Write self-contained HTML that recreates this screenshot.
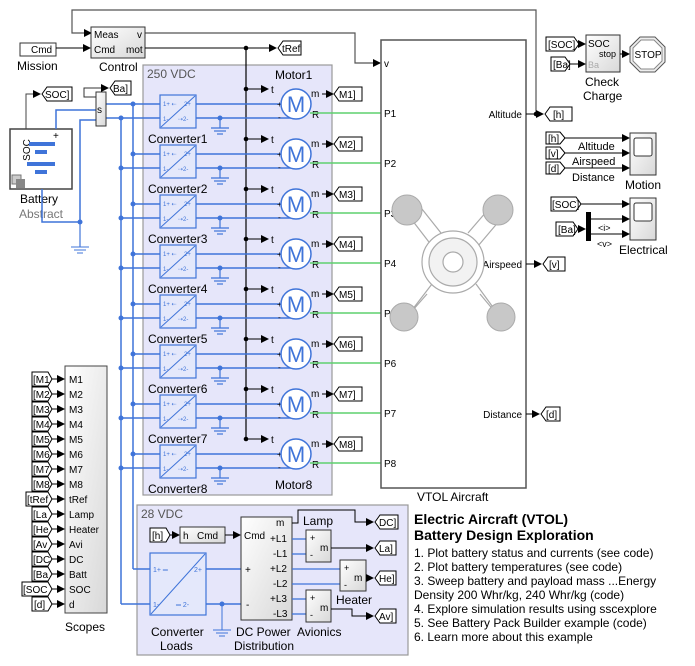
<!DOCTYPE html>
<html><head><meta charset="utf-8"><style>
html,body{margin:0;padding:0;background:#fff;}
svg{display:block;font-family:"Liberation Sans",Arial,sans-serif;}
</style></head><body>
<svg width="695" height="666" viewBox="0 0 695 666" xmlns="http://www.w3.org/2000/svg">
<defs>
<marker id="ar" markerWidth="8" markerHeight="8" refX="7" refY="4" orient="auto" markerUnits="userSpaceOnUse"><path d="M0,0 L8,4 L0,8 z" fill="#000"/></marker>
<linearGradient id="gb" x1="0" x2="1" y1="0" y2="1"><stop offset="0" stop-color="#fff"/><stop offset="1" stop-color="#d8d8d8"/></linearGradient>
<g id="row">
  <line x1="133" y1="104" x2="160" y2="104" stroke="#3f74d9" stroke-width="1.5"/>
  <line x1="121" y1="118" x2="160" y2="118" stroke="#3f74d9" stroke-width="1.5"/>
  <circle cx="133" cy="104" r="2.5" fill="#3f74d9"/>
  <circle cx="121" cy="118" r="2.5" fill="#3f74d9"/>
  <line x1="196" y1="104" x2="283" y2="104" stroke="#3f74d9" stroke-width="1.5"/>
  <line x1="196" y1="118" x2="296" y2="118" stroke="#3f74d9" stroke-width="1.5"/>
  <circle cx="220" cy="118" r="2.5" fill="#3f74d9"/>
  <line x1="220" y1="118" x2="220" y2="128" stroke="#3f74d9" stroke-width="1.2"/>
  <line x1="211" y1="128" x2="229" y2="128" stroke="#3f74d9" stroke-width="1.2"/>
  <line x1="214" y1="131" x2="226" y2="131" stroke="#3f74d9" stroke-width="1.2"/>
  <line x1="217" y1="134" x2="223" y2="134" stroke="#3f74d9" stroke-width="1.2"/>
  <rect x="160" y="95" width="36" height="33" fill="#e4e8fb" stroke="#3f74d9" stroke-width="1.2"/>
  <line x1="161" y1="127" x2="195" y2="96" stroke="#3f74d9" stroke-width="1"/>
  <text x="163" y="106" font-size="6" fill="#3f74d9">1+ ⇠</text>
  <text x="184" y="106" font-size="6" fill="#3f74d9">2+</text>
  <text x="163" y="121" font-size="6" fill="#3f74d9">1-</text>
  <text x="178" y="121" font-size="6" fill="#3f74d9">⇢2-</text>
  <line x1="246" y1="89" x2="268" y2="89" stroke="#000" marker-end="url(#ar)"/>
  <circle cx="246" cy="89" r="2.3" fill="#000"/>
  <text x="271" y="93" font-size="10">t</text>
  <text x="277" y="107" font-size="8">+</text>
  <text x="278" y="120" font-size="8">-</text>
  <circle cx="296" cy="104" r="15" fill="#fff" stroke="#3f74d9" stroke-width="1.5"/>
  <text x="296" y="112" font-size="22" fill="#3f74d9" text-anchor="middle">M</text>
  <text x="311" y="97" font-size="10">m</text>
  <text x="312" y="118" font-size="10">R</text>
  <line x1="322" y1="94" x2="333" y2="94" stroke="#000" marker-end="url(#ar)"/>
  <line x1="310" y1="113" x2="381" y2="113" stroke="#5fd16e" stroke-width="1.5"/>
  <path d="M334,94 l5,-7 h23 v14 h-23 z" fill="#fff" stroke="#000" stroke-width="1"/>
</g>
<path id="tag" d="M0,0 l5,-7 h23 v14 h-23 z" fill="#fff" stroke="#000" stroke-width="1"/>
</defs>

<!-- top feedback lines -->
<polyline points="536,114 536,10 72,10 72,33 91,33" fill="none" stroke="#555" stroke-width="1.2" marker-end="url(#ar)"/>
<polyline points="145,33 355,33 355,63 380,63" fill="none" stroke="#555" stroke-width="1.2" marker-end="url(#ar)"/>
<!-- Mission -->
<rect x="20" y="43" width="36" height="13" fill="#fff" stroke="#333"/>
<text x="31" y="53" font-size="10">Cmd</text>
<text x="17" y="70" font-size="12">Mission</text>
<line x1="56" y1="48" x2="90" y2="48" stroke="#000" marker-end="url(#ar)"/>
<!-- Control -->
<rect x="91" y="27" width="54" height="31" fill="url(#gb)" stroke="#333"/>
<text x="94" y="38" font-size="10">Meas</text><text x="137" y="38" font-size="10">v</text>
<text x="94" y="53" font-size="10">Cmd</text><text x="126" y="53" font-size="10">mot</text>
<text x="99" y="71" font-size="12">Control</text>
<line x1="145" y1="48" x2="276" y2="48" stroke="#000" marker-end="url(#ar)"/>
<circle cx="246" cy="48" r="2.3" fill="#000"/>
<path d="M278,48 l5,-7 h18 v14 h-18 z" fill="#fff" stroke="#000"/>
<text x="282" y="52" font-size="10">tRef</text>

<!-- 250 VDC box -->
<rect x="143" y="65" width="189" height="430" fill="#e6e6fa" stroke="#999" stroke-width="1.2"/>
<text x="147" y="78" font-size="12" fill="#555">250 VDC</text>
<text x="275" y="79" font-size="12">Motor1</text>
<text x="275" y="489" font-size="12">Motor8</text>

<!-- buses -->
<line x1="133" y1="104" x2="133" y2="569" stroke="#3f74d9" stroke-width="1.5"/>
<line x1="121" y1="118" x2="121" y2="604" stroke="#3f74d9" stroke-width="1.5"/>
<line x1="246" y1="48" x2="246" y2="439" stroke="#000" stroke-width="1.2"/>
<line x1="106" y1="104" x2="133" y2="104" stroke="#3f74d9" stroke-width="1.5"/>
<line x1="106" y1="118" x2="121" y2="118" stroke="#3f74d9" stroke-width="1.5"/>

<use href="#row"/>
<use href="#row" y="50"/>
<use href="#row" y="100"/>
<use href="#row" y="150"/>
<use href="#row" y="200"/>
<use href="#row" y="250"/>
<use href="#row" y="300"/>
<use href="#row" y="350"/>
<g font-size="12">
<text x="148" y="143">Converter1</text><text x="148" y="193">Converter2</text>
<text x="148" y="243">Converter3</text><text x="148" y="293">Converter4</text>
<text x="148" y="343">Converter5</text><text x="148" y="393">Converter6</text>
<text x="148" y="443">Converter7</text><text x="148" y="493">Converter8</text>
</g>
<g font-size="10">
<text x="339" y="98">M1]</text><text x="339" y="148">M2]</text><text x="339" y="198">M3]</text><text x="339" y="248">M4]</text>
<text x="339" y="298">M5]</text><text x="339" y="348">M6]</text><text x="339" y="398">M7]</text><text x="339" y="448">M8]</text>
</g>

<!-- Battery -->
<rect x="10" y="129" width="62" height="60" fill="#fff" stroke="#444" stroke-width="1.5"/>
<text x="30" y="150" font-size="10" transform="rotate(-90 30 150)" text-anchor="middle">SOC</text>
<text x="53" y="139" font-size="10">+</text>
<rect x="29" y="142" width="26" height="4" fill="#3f74d9"/>
<rect x="35" y="150" width="12" height="4" fill="#3f74d9"/>
<rect x="27" y="162" width="28" height="4" fill="#3f74d9"/>
<rect x="35" y="170" width="12" height="4" fill="#3f74d9"/>
<rect x="12" y="175" width="9" height="9" fill="#ccc" stroke="#777"/>
<rect x="16" y="179" width="9" height="9" fill="#888"/>
<text x="20" y="203" font-size="12">Battery</text>
<text x="19" y="218" font-size="12" fill="#777">Abstract</text>
<polyline points="26,129 26,94 40,94" fill="none" stroke="#444" marker-end="url(#ar)"/>
<path d="M42,94 l5,-7 h25 v14 h-25 z" fill="#fff" stroke="#000"/>
<text x="45" y="98" font-size="10">SOC]</text>
<polyline points="56,129 56,110 96,110" fill="none" stroke="#3f74d9" stroke-width="1.5"/>
<polyline points="42,189 42,222 80,222 80,120 96,120" fill="none" stroke="#3f74d9" stroke-width="1.5"/>
<circle cx="80" cy="222" r="2.5" fill="#3f74d9"/>
<line x1="80" y1="222" x2="80" y2="247" stroke="#3f74d9" stroke-width="1.2"/>
<line x1="71" y1="247" x2="89" y2="247" stroke="#3f74d9"/><line x1="74" y1="250" x2="86" y2="250" stroke="#3f74d9"/><line x1="77" y1="253" x2="83" y2="253" stroke="#3f74d9"/>
<rect x="96" y="92" width="10" height="34" fill="url(#gb)" stroke="#333"/>
<text x="97" y="113" font-size="10">s</text>
<polyline points="96,97 84,97 84,88 108,88" fill="none" stroke="#333" marker-end="url(#ar)"/>
<path d="M110,88 l5,-7 h16 v14 h-16 z" fill="#fff" stroke="#000"/>
<text x="113" y="92" font-size="10">Ba]</text>

<!-- Scopes -->
<rect x="65" y="366" width="42" height="247" fill="url(#gb)" stroke="#444"/>
<g font-size="10">
<text x="69" y="383">M1</text><text x="69" y="398">M2</text><text x="69" y="413">M3</text><text x="69" y="428">M4</text>
<text x="69" y="443">M5</text><text x="69" y="458">M6</text><text x="69" y="473">M7</text><text x="69" y="488">M8</text>
<text x="69" y="503">tRef</text><text x="69" y="518">Lamp</text><text x="69" y="533">Heater</text><text x="69" y="548">Avi</text>
<text x="69" y="563">DC</text><text x="69" y="578">Batt</text><text x="69" y="593">SOC</text><text x="69" y="608">d</text>
</g>
<g stroke="#000" marker-end="url(#ar)">
<line x1="50" y1="379" x2="64" y2="379"/><line x1="50" y1="394" x2="64" y2="394"/><line x1="50" y1="409" x2="64" y2="409"/><line x1="50" y1="424" x2="64" y2="424"/>
<line x1="50" y1="439" x2="64" y2="439"/><line x1="50" y1="454" x2="64" y2="454"/><line x1="50" y1="469" x2="64" y2="469"/><line x1="50" y1="484" x2="64" y2="484"/>
<line x1="50" y1="499" x2="64" y2="499"/><line x1="50" y1="514" x2="64" y2="514"/><line x1="50" y1="529" x2="64" y2="529"/><line x1="50" y1="544" x2="64" y2="544"/>
<line x1="50" y1="559" x2="64" y2="559"/><line x1="50" y1="574" x2="64" y2="574"/><line x1="50" y1="589" x2="64" y2="589"/><line x1="50" y1="604" x2="64" y2="604"/>
</g>
<g fill="#fff" stroke="#000">
<path d="M32,372 h16 l4,7 l-4,7 h-16 z"/><path d="M32,387 h16 l4,7 l-4,7 h-16 z"/><path d="M32,402 h16 l4,7 l-4,7 h-16 z"/><path d="M32,417 h16 l4,7 l-4,7 h-16 z"/>
<path d="M32,432 h16 l4,7 l-4,7 h-16 z"/><path d="M32,447 h16 l4,7 l-4,7 h-16 z"/><path d="M32,462 h16 l4,7 l-4,7 h-16 z"/><path d="M32,477 h16 l4,7 l-4,7 h-16 z"/>
<path d="M26,492 h22 l4,7 l-4,7 h-22 z"/><path d="M32,507 h16 l4,7 l-4,7 h-16 z"/><path d="M32,522 h16 l4,7 l-4,7 h-16 z"/><path d="M32,537 h16 l4,7 l-4,7 h-16 z"/>
<path d="M32,552 h16 l4,7 l-4,7 h-16 z"/><path d="M32,567 h16 l4,7 l-4,7 h-16 z"/><path d="M22,582 h26 l4,7 l-4,7 h-26 z"/><path d="M32,597 h16 l4,7 l-4,7 h-16 z"/>
</g>
<g font-size="10">
<text x="33" y="383">[M1</text><text x="33" y="398">[M2</text><text x="33" y="413">[M3</text><text x="33" y="428">[M4</text>
<text x="33" y="443">[M5</text><text x="33" y="458">[M6</text><text x="33" y="473">[M7</text><text x="33" y="488">[M8</text>
<text x="27" y="503">[tRef</text><text x="33" y="518">[La</text><text x="33" y="533">[He</text><text x="33" y="548">[Av</text>
<text x="33" y="563">[DC</text><text x="33" y="578">[Ba</text><text x="23" y="593">[SOC</text><text x="34" y="608">[d]</text>
</g>
<text x="65" y="631" font-size="12">Scopes</text>

<!-- 28 VDC -->
<rect x="137" y="505" width="271" height="150" fill="#e6e6fa" stroke="#999" stroke-width="1.2"/>
<text x="141" y="518" font-size="12" fill="#555">28 VDC</text>
<line x1="133" y1="569" x2="150" y2="569" stroke="#3f74d9" stroke-width="1.5"/>
<line x1="121" y1="604" x2="150" y2="604" stroke="#3f74d9" stroke-width="1.5"/>
<rect x="150" y="553" width="56" height="62" fill="#e4e8fb" stroke="#3f74d9" stroke-width="1.2"/>
<line x1="151" y1="614" x2="205" y2="554" stroke="#3f74d9"/>
<text x="153" y="572" font-size="7" fill="#3f74d9">1+ ═</text><text x="194" y="572" font-size="7" fill="#3f74d9">2+</text>
<text x="153" y="607" font-size="7" fill="#3f74d9">1-</text><text x="176" y="607" font-size="7" fill="#3f74d9">═ 2-</text>
<text x="151" y="636" font-size="12">Converter</text><text x="160" y="650" font-size="12">Loads</text>
<line x1="206" y1="569" x2="241" y2="569" stroke="#3f74d9" stroke-width="1.5"/>
<line x1="206" y1="604" x2="241" y2="604" stroke="#3f74d9" stroke-width="1.5"/>
<circle cx="222" cy="604" r="2.5" fill="#3f74d9"/>
<line x1="222" y1="604" x2="222" y2="630" stroke="#3f74d9"/>
<line x1="213" y1="630" x2="231" y2="630" stroke="#3f74d9"/><line x1="216" y1="633" x2="228" y2="633" stroke="#3f74d9"/><line x1="219" y1="636" x2="225" y2="636" stroke="#3f74d9"/>
<path d="M150,528 h16 l4,7 l-4,7 h-16 z" fill="#fff" stroke="#000"/><text x="152" y="539" font-size="10">[h]</text>
<line x1="170" y1="535" x2="179" y2="535" stroke="#000" marker-end="url(#ar)"/>
<rect x="180" y="527" width="45" height="16" fill="url(#gb)" stroke="#333"/>
<text x="183" y="539" font-size="10">h</text><text x="197" y="539" font-size="10">Cmd</text>
<line x1="225" y1="535" x2="240" y2="535" stroke="#000" marker-end="url(#ar)"/>
<rect x="241" y="517" width="51" height="103" fill="url(#gb)" stroke="#333"/>
<g font-size="10">
<text x="244" y="539">Cmd</text><text x="276" y="526">m</text>
<text x="270" y="542">+L1</text><text x="273" y="557">-L1</text><text x="270" y="572">+L2</text><text x="273" y="587">-L2</text><text x="270" y="602">+L3</text><text x="273" y="617">-L3</text>
<text x="245" y="573">+</text><text x="246" y="608">-</text>
</g>
<text x="236" y="636" font-size="12">DC Power</text><text x="234" y="650" font-size="12">Distribution</text>
<polyline points="292,523 298,523 298,510 355,510 355,522 373,522" fill="none" stroke="#000" marker-end="url(#ar)"/>
<g stroke="#3f74d9" stroke-width="1.3" fill="none">
<polyline points="292,539 306,539"/><polyline points="292,554 306,554"/>
<polyline points="292,569 340,569"/><polyline points="292,584 340,584"/>
<polyline points="292,599 306,599"/><polyline points="292,614 306,614"/>
</g>
<rect x="306" y="530" width="25" height="32" fill="url(#gb)" stroke="#333"/>
<text x="310" y="541" font-size="9">+</text><text x="310" y="558" font-size="9">-</text><text x="320" y="551" font-size="10">m</text>
<rect x="340" y="560" width="26" height="31" fill="url(#gb)" stroke="#333"/>
<text x="344" y="571" font-size="9">+</text><text x="344" y="588" font-size="9">-</text><text x="354" y="581" font-size="10">m</text>
<rect x="306" y="590" width="25" height="32" fill="url(#gb)" stroke="#333"/>
<text x="310" y="601" font-size="9">+</text><text x="310" y="618" font-size="9">-</text><text x="320" y="611" font-size="10">m</text>
<text x="303" y="525" font-size="12">Lamp</text>
<text x="336" y="604" font-size="12">Heater</text>
<text x="297" y="636" font-size="12">Avionics</text>
<line x1="331" y1="548" x2="373" y2="548" stroke="#000" marker-end="url(#ar)"/>
<line x1="366" y1="578" x2="373" y2="578" stroke="#000" marker-end="url(#ar)"/>
<polyline points="331,609 352,609 352,616 373,616" fill="none" stroke="#000" marker-end="url(#ar)"/>
<path d="M375,522 l5,-7 h18 v14 h-18 z" fill="#fff" stroke="#000"/><text x="379" y="526" font-size="10">DC]</text>
<path d="M375,548 l5,-7 h16 v14 h-16 z" fill="#fff" stroke="#000"/><text x="379" y="552" font-size="10">La]</text>
<path d="M375,578 l5,-7 h16 v14 h-16 z" fill="#fff" stroke="#000"/><text x="379" y="582" font-size="10">He]</text>
<path d="M375,616 l5,-7 h16 v14 h-16 z" fill="#fff" stroke="#000"/><text x="379" y="620" font-size="10">Av]</text>

<!-- VTOL -->
<rect x="381" y="40" width="145" height="448" fill="#fff" stroke="#555" stroke-width="1.5"/>
<g font-size="10">
<text x="384" y="67">v</text>
<text x="384" y="117">P1</text><text x="384" y="167">P2</text><text x="384" y="217">P3</text><text x="384" y="267">P4</text>
<text x="384" y="317">P5</text><text x="384" y="367">P6</text><text x="384" y="417">P7</text><text x="384" y="467">P8</text>
<text x="522" y="118" text-anchor="end">Altitude</text>
<text x="522" y="268" text-anchor="end">Airspeed</text>
<text x="522" y="418" text-anchor="end">Distance</text>
</g>
<g stroke="#aaa" stroke-width="1.2" fill="#fff">
<path d="M412,220 L432,246 M418,204 L441,233 M493,204 L468,233 M500,220 L478,246"/>
<path d="M412,310 L432,284 M406,318 L427,294 M495,310 L476,284 M500,318 L480,294"/>
<circle cx="453" cy="262" r="31"/>
<circle cx="453" cy="262" r="24" fill="#f2f2f2"/>
<circle cx="453" cy="262" r="10" fill="#fff"/>
</g>
<g fill="#c8c8c8" stroke="#aaa">
<circle cx="407" cy="210" r="15"/><circle cx="498" cy="210" r="15"/>
<circle cx="404" cy="317" r="14"/><circle cx="501" cy="317" r="14"/>
</g>
<text x="417" y="501" font-size="12">VTOL Aircraft</text>
<line x1="526" y1="114" x2="543" y2="114" stroke="#000" marker-end="url(#ar)"/>
<circle cx="536" cy="114" r="2.3" fill="#000"/>
<path d="M545,114 l5,-7 h22 v14 h-22 z" fill="#fff" stroke="#000"/><text x="553" y="118" font-size="10">[h]</text>
<line x1="526" y1="264" x2="541" y2="264" stroke="#000" marker-end="url(#ar)"/>
<path d="M543,264 l5,-7 h17 v14 h-17 z" fill="#fff" stroke="#000"/><text x="549" y="268" font-size="10">[v]</text>
<line x1="526" y1="414" x2="539" y2="414" stroke="#000" marker-end="url(#ar)"/>
<path d="M541,414 l5,-7 h14 v14 h-14 z" fill="#fff" stroke="#000"/><text x="546" y="418" font-size="10">[d]</text>

<!-- Check charge -->
<path d="M546,37 h28 l5,7 l-5,7 h-28 z" fill="#fff" stroke="#000"/><text x="548" y="48" font-size="10">[SOC]</text>
<path d="M551,57 h14 l5,7 l-5,7 h-14 z" fill="#fff" stroke="#000"/><text x="553" y="68" font-size="10">[Ba]</text>
<line x1="579" y1="44" x2="585" y2="44" stroke="#000" marker-end="url(#ar)"/>
<line x1="570" y1="64" x2="585" y2="64" stroke="#000" marker-end="url(#ar)"/>
<rect x="586" y="35" width="34" height="37" fill="url(#gb)" stroke="#333"/>
<text x="588" y="47" font-size="10">SOC</text><text x="599" y="57" font-size="9">stop</text><text x="588" y="68" font-size="9" fill="#aaa">Ba</text>
<line x1="620" y1="54" x2="629" y2="54" stroke="#000" marker-end="url(#ar)"/>
<path d="M640,37 h15 l10,10 v15 l-10,10 h-15 l-10,-10 v-15 z" fill="#eee" stroke="#555"/>
<path d="M641,40 h13 l8,8 v13 l-8,8 h-13 l-8,-8 v-13 z" fill="#fff" stroke="#888"/>
<text x="648" y="58" font-size="10" text-anchor="middle">STOP</text>
<text x="585" y="86" font-size="12">Check</text><text x="583" y="100" font-size="12">Charge</text>

<!-- Motion scope -->
<path d="M546,132 h14 l5,6 l-5,6 h-14 z" fill="#fff" stroke="#000"/><text x="548" y="142" font-size="10">[h]</text>
<path d="M546,147 h14 l5,6 l-5,6 h-14 z" fill="#fff" stroke="#000"/><text x="548" y="157" font-size="10">[v]</text>
<path d="M546,162 h14 l5,6 l-5,6 h-14 z" fill="#fff" stroke="#000"/><text x="548" y="172" font-size="10">[d]</text>
<g stroke="#000" marker-end="url(#ar)"><line x1="565" y1="138" x2="629" y2="138"/><line x1="565" y1="153" x2="629" y2="153"/><line x1="565" y1="168" x2="629" y2="168"/></g>
<text x="578" y="150" font-size="11">Altitude</text><text x="572" y="165" font-size="11">Airspeed</text><text x="572" y="181" font-size="11">Distance</text>
<rect x="630" y="133" width="26" height="42" fill="url(#gb)" stroke="#333"/>
<rect x="634" y="138" width="18" height="18" fill="#fff" stroke="#333" rx="2"/>
<text x="625" y="189" font-size="12">Motion</text>

<!-- Electrical scope -->
<path d="M551,197 h25 l5,7 l-5,7 h-25 z" fill="#fff" stroke="#000"/><text x="552" y="208" font-size="10">[SOC]</text>
<path d="M556,222 h17 l5,7 l-5,7 h-17 z" fill="#fff" stroke="#000"/><text x="558" y="233" font-size="10">[Ba]</text>
<line x1="578" y1="229" x2="585" y2="229" stroke="#000" marker-end="url(#ar)"/>
<rect x="586" y="212" width="5" height="29" fill="#000"/>
<g stroke="#000" marker-end="url(#ar)"><line x1="581" y1="204" x2="629" y2="204"/><line x1="591" y1="219" x2="629" y2="219"/><line x1="591" y1="234" x2="629" y2="234"/></g>
<text x="598" y="231" font-size="9">&lt;i&gt;</text><text x="597" y="247" font-size="9">&lt;v&gt;</text>
<rect x="630" y="198" width="26" height="42" fill="url(#gb)" stroke="#333"/>
<rect x="634" y="203" width="18" height="18" fill="#fff" stroke="#333" rx="2"/>
<text x="619" y="254" font-size="12">Electrical</text>

<!-- Annotation -->
<text x="414" y="524" font-size="14" font-weight="bold">Electric Aircraft (VTOL)</text>
<text x="414" y="540" font-size="14" font-weight="bold">Battery Design Exploration</text>
<g font-size="12">
<text x="414" y="557">1. Plot battery status and currents (see code)</text>
<text x="414" y="571">2. Plot battery temperatures (see code)</text>
<text x="414" y="585">3. Sweep battery and payload mass  ...Energy</text>
<text x="414" y="599">Density 200 Whr/kg, 240 Whr/kg (code)</text>
<text x="414" y="613">4. Explore simulation results using sscexplore</text>
<text x="414" y="627">5. See Battery Pack Builder example (code)</text>
<text x="414" y="641">6. Learn more about this example</text>
</g>
</svg>
</body></html>
